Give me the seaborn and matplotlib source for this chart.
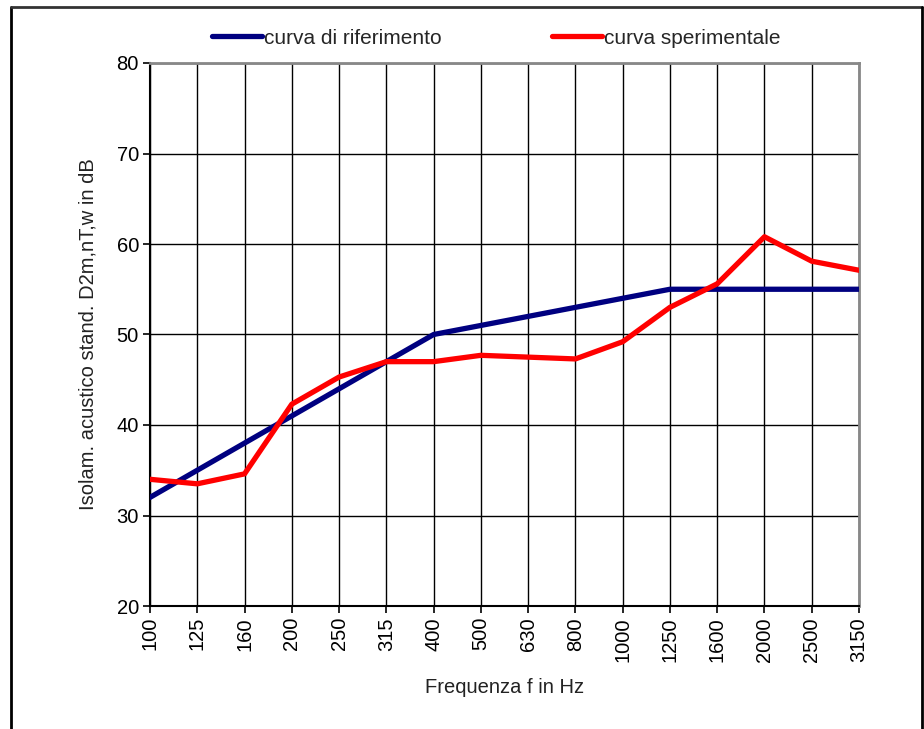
# Isolamento acustico: curva di riferimento vs curva sperimentale
import matplotlib
matplotlib.use("Agg")
import matplotlib.pyplot as plt
from matplotlib.lines import Line2D
import numpy as np
import pandas as pd
import seaborn as sns

FREQS = ["100", "125", "160", "200", "250", "315", "400", "500",
         "630", "800", "1000", "1250", "1600", "2000", "2500", "3150"]
RIFERIMENTO = [32, 35, 38, 41, 44, 47, 50, 51, 52, 53, 54, 55, 55, 55, 55, 55]
SPERIMENTALE = [34.0, 33.5, 34.6, 42.3, 45.3, 47.0, 47.0, 47.7,
                47.5, 47.3, 49.2, 53.0, 55.6, 60.8, 58.1, 57.1]
SERIES = ["curva di riferimento", "curva sperimentale"]
Y_TICKS = [20, 30, 40, 50, 60, 70, 80]

sns.set_theme(style="white")
plt.rcParams["font.family"] = ["Liberation Sans", "DejaVu Sans"]

pos = np.arange(len(FREQS))
df = pd.DataFrame({
    "pos": np.concatenate([pos, pos]),
    "val": RIFERIMENTO + SPERIMENTALE,
    "serie": [SERIES[0]] * len(FREQS) + [SERIES[1]] * len(FREQS),
})

fig = plt.figure(figsize=(9.24, 7.29), dpi=100)
ax = fig.add_axes([150 / 924, 123 / 729, 709 / 924, 543 / 729])

palette = {SERIES[0]: "#000080", SERIES[1]: "#ff0000"}
sns.lineplot(data=df, x="pos", y="val", hue="serie", palette=palette,
             linewidth=3.8, sort=False, legend=False, ax=ax, zorder=3)

ax.set_xlim(0, len(FREQS) - 1)
ax.set_ylim(20, 80)
ax.set_xticks(pos)
ax.set_xticklabels(FREQS, rotation=90, fontsize=14.5)
ax.set_yticks(Y_TICKS)
ax.set_yticklabels([str(t) for t in Y_TICKS], fontsize=14.5)
ax.tick_params(axis="both", direction="out", length=5, width=1.2,
               color="black", labelcolor="black", pad=3,
               bottom=True, left=True)
ax.grid(True, color="black", linewidth=1.0)
ax.set_axisbelow(True)

for side in ["left", "bottom"]:
    ax.spines[side].set_color("black")
    ax.spines[side].set_linewidth(1.5)
for side in ["right", "top"]:
    ax.spines[side].set_color("#888888")
    ax.spines[side].set_linewidth(2)

ax.set_xlabel("Frequenza f in Hz", fontsize=14.5, color="#222222", labelpad=12)
ax.set_ylabel("Isolam. acustico stand. D2m,nT,w in dB", fontsize=14.5,
              color="#222222", labelpad=14)

handles = [Line2D([], [], color=palette[s], linewidth=3.8) for s in SERIES]
fig.legend(handles, SERIES, loc="center", bbox_to_anchor=(496 / 924, 1 - 38 / 729),
           ncol=2, frameon=False, fontsize=15, handlelength=2.4,
           handletextpad=0.1, columnspacing=5.3)

# outer frame of the figure
fig.add_artist(Line2D([11 / 924, 11 / 924], [0, 1 - 7 / 729], color="black",
                      linewidth=2, transform=fig.transFigure))
fig.add_artist(Line2D([11 / 924, 922 / 924], [1 - 7 / 729, 1 - 7 / 729],
                      color="#333333", linewidth=2, transform=fig.transFigure))
fig.add_artist(Line2D([922 / 924, 922 / 924], [0, 1 - 7 / 729], color="black",
                      linewidth=2, transform=fig.transFigure))

fig.savefig("out.png", dpi=100)
